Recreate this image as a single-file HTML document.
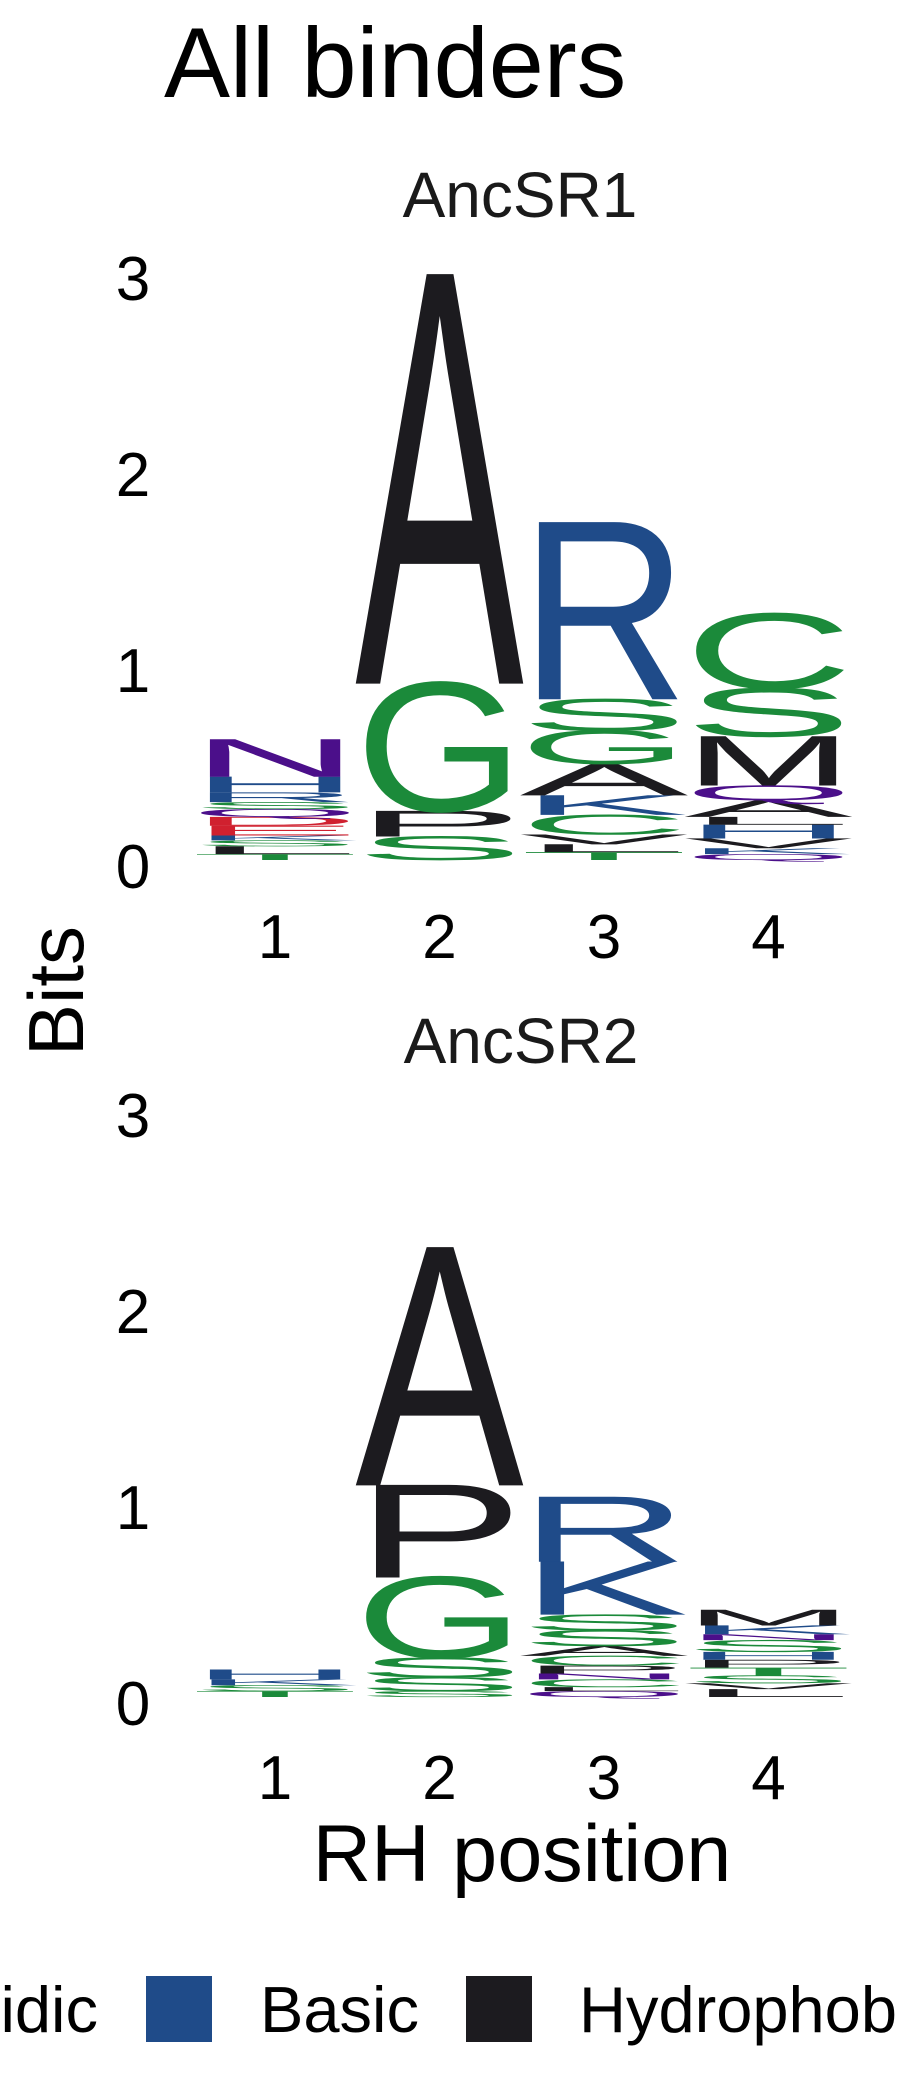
<!DOCTYPE html>
<html><head><meta charset="utf-8"><style>
html,body{margin:0;padding:0;background:#fff;width:900px;height:2100px;overflow:hidden}
svg{display:block;font-family:"Liberation Sans",Arial,sans-serif}
</style></head><body>
<svg id="chart" width="900" height="2100" viewBox="0 0 900 2100">
<text x="164" y="97" font-size="99" fill="#000">All binders</text>
<text x="520" y="217" font-size="64" text-anchor="middle" fill="#1a1a1a">AncSR1</text>
<text x="521" y="1063" font-size="64" text-anchor="middle" fill="#1a1a1a">AncSR2</text>
<text transform="translate(83,991) rotate(-90)" font-size="78" text-anchor="middle" fill="#000">Bits</text>
<text x="522" y="1881" font-size="81" text-anchor="middle" fill="#000">RH position</text>
<g>
<text x="98" y="2032" font-size="65" text-anchor="end" fill="#000">Acidic</text>
<rect x="146" y="1976" width="66" height="66" fill="#1f4b89"/>
<text x="260" y="2032" font-size="65" fill="#000">Basic</text>
<rect x="466" y="1976" width="66" height="66" fill="#1c1b1f"/>
<text x="579" y="2032" font-size="65" fill="#000">Hydrophobic</text>
</g>
<g id="p1"></g>
<g id="p2"></g>
</svg>
<script>
const positions = ['1','2','3','4'];
const yTicks = [0,1,2,3];
// AncSR1 stacks, bottom -> top
const p1Letters = [
  ['T','L','S','K','E','D','Q','S','R','H','N'],
  ['S','P','G','A'],
  ['T','L','V','C','K','A','G','S','R'],
  ['Q','K','V','H','L','A','Q','M','S','C']
];
const p1Bits = [
  [0.03,0.04,0.03,0.025,0.05,0.045,0.04,0.035,0.05,0.08,0.19],
  [0.12,0.13,0.65,2.08],
  [0.04,0.04,0.05,0.1,0.1,0.16,0.17,0.16,0.9],
  [0.03,0.03,0.05,0.07,0.04,0.085,0.075,0.25,0.245,0.38]
];
// AncSR2 stacks, bottom -> top
const p2Letters = [
  ['T','S','K','H'],
  ['S','S','S','G','P','A'],
  ['Q','L','C','N','P','C','A','S','S','K','R'],
  ['L','V','S','T','P','H','S','N','K','M']
];
const p2Bits = [
  [0.03,0.03,0.03,0.05],
  [0.03,0.07,0.1,0.41,0.47,1.21],
  [0.03,0.02,0.04,0.03,0.04,0.05,0.05,0.08,0.08,0.27,0.33],
  [0.04,0.03,0.04,0.04,0.04,0.04,0.06,0.03,0.045,0.08]
];
const colorOf = {G:'#1b8a3a',S:'#1b8a3a',T:'#1b8a3a',Y:'#1b8a3a',C:'#1b8a3a',
  N:'#4b0f8a',Q:'#4b0f8a',D:'#d0202f',E:'#d0202f',K:'#1f4b89',R:'#1f4b89',H:'#1f4b89',
  A:'#1c1b1f',V:'#1c1b1f',L:'#1c1b1f',I:'#1c1b1f',P:'#1c1b1f',W:'#1c1b1f',F:'#1c1b1f',M:'#1c1b1f'};
const NS='http://www.w3.org/2000/svg';
const colW=156, pitch=164.5, left0=197, pxPerBit=196;
function xLeft(i){return left0+i*pitch;}
function drawPanel(gid, letters, bits, base, xTickBase){
  const g=document.getElementById(gid);
  const yScale=v=>base-v*pxPerBit;
  yTicks.forEach(v=>{
    const t=document.createElementNS(NS,'text');
    t.setAttribute('x',133);t.setAttribute('y',yScale(v)+28);
    t.setAttribute('font-size',62);t.setAttribute('text-anchor','middle');
    t.textContent=v;
    
    
    g.appendChild(t);
  });
  positions.forEach((p,i)=>{
    const t=document.createElementNS(NS,'text');
    t.setAttribute('x',xLeft(i)+colW/2);t.setAttribute('y',xTickBase);
    t.setAttribute('font-size',62);t.setAttribute('text-anchor','middle');
    t.textContent=p;
    
    
    g.appendChild(t);
    let acc=0;
    letters[i].forEach((L,j)=>{
      const h=bits[i][j];
      const yb=yScale(acc), hp=h*pxPerBit;
      acc+=h;
      const el=document.createElementNS(NS,'text');
      el.setAttribute('x',-colW*0.04);el.setAttribute('y',0);
      el.setAttribute('font-size',100);
      el.setAttribute('textLength',colW*1.08);
      el.setAttribute('lengthAdjust','spacingAndGlyphs');
      el.setAttribute('fill',colorOf[L]||'#999');
      el.setAttribute('transform','translate('+xLeft(i)+','+yb+') scale(1,'+(hp/68.5)+')');
      el.textContent=L;
      
      
      g.appendChild(el);
    });
  });
}
drawPanel('p1',p1Letters,p1Bits,860,958);
drawPanel('p2',p2Letters,p2Bits,1697,1799);
</script>
</body></html>
